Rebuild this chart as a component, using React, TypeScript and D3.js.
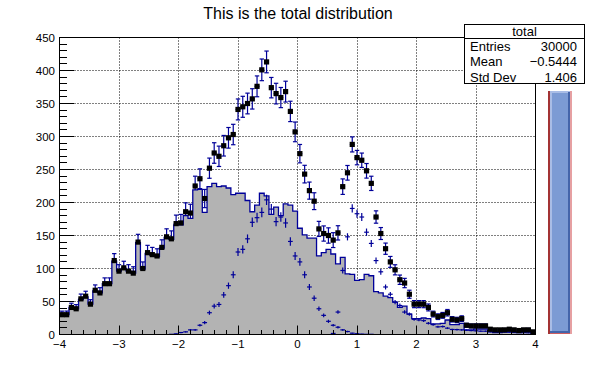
import React from 'react';
import * as d3 from 'd3';

const W = 596;
const H = 372;

// histogram binning: 100 bins from -4 to 4
const xLow = -4;
const xHigh = 4;
const nBins = 100;

const titleText = 'This is the total distribution';

// total = main + s1 + s2 (read from the black squares)
const totalCounts = [
  30, 30, 41, 39, 54, 58, 46, 67, 63, 77,
  77, 112, 96, 101, 96, 93, 140, 100, 124, 121,
  119, 132, 148, 145, 168, 169, 186, 184, 225, 236,
  206, 252, 275, 270, 286, 298, 303, 341, 345, 350,
  357, 376, 401, 413, 374, 365, 359, 368, 338, 307,
  274, 243, 218, 202, 160, 153, 150, 143, 154, 224,
  245, 288, 268, 264, 248, 229, 178, 153, 130, 110,
  98, 83, 78, 61, 46, 46, 46, 41, 31, 27,
  29, 33, 23, 22, 24, 14, 13, 13, 13, 13,
  8, 7, 7, 7, 8, 7, 6, 7, 7, 4,
];

// main contributor (grey filled)
const mainCounts = [
  29, 30, 41, 39, 53, 57, 46, 66, 63, 77,
  77, 111, 96, 100, 96, 93, 139, 99, 123, 120,
  118, 131, 147, 144, 166, 166, 180, 176, 219, 220,
  185, 224, 229, 224, 225, 222, 212, 214, 214, 203,
  186, 196, 214, 210, 182, 193, 180, 198, 196, 187,
  161, 151, 146, 146, 119, 124, 129, 122, 107, 117,
  92, 91, 82, 83, 91, 89, 65, 63, 58, 56,
  49, 41, 43, 31, 24, 24, 25, 24, 16, 16,
  17, 22, 15, 15, 17, 7, 7, 8, 8, 8,
  4, 3, 3, 4, 5, 4, 3, 4, 5, 2,
];

// first signal, weight 0.3
const signal1 = [
  0, 0, 0, 0, 0, 0, 0, 0, 0, 0,
  0, 0, 0, 0, 0, 0, 0, 0, 0, 0,
  0, 0, 0, 0.3, 1, 3, 4, 7, 7, 14,
  18, 33, 43, 45.5, 60, 74, 90.5, 125, 129, 145,
  170, 177, 185, 204, 190, 171, 178, 169, 141, 119,
  110, 90.5, 72, 55, 39, 29, 20, 14, 11, 7,
  4.5, 2, 1.2, 0.6, 0.3, 0.3, 0, 0, 0, 0,
  0, 0, 0, 0, 0, 0, 0, 0, 0, 0,
  0, 0, 0, 0, 0, 0, 0, 0, 0, 0,
  0, 0, 0, 0, 0, 0, 0, 0, 0, 0,
];

// second signal, weight 0.2
const signal2 = [
  0, 0, 0, 0, 0, 0, 0, 0, 0, 0,
  0, 0, 0, 0, 0, 0, 0, 0, 0, 0,
  0, 0, 0, 0, 0, 0, 0, 0, 0, 0,
  0, 0, 0, 0, 0, 0, 0, 0, 0, 0,
  0, 0, 0, 0, 0, 0, 0, 0, 0, 0,
  0, 0, 0, 0, 0, 0, 0, 1.6, 34, 97,
  148, 191, 183, 178, 155, 138, 112, 95, 72, 61,
  49, 44, 34, 31, 23, 22, 21, 17, 15, 11.6,
  12, 9.6, 7.6, 7.4, 7, 6.4, 6, 5.6, 5, 5,
  4.4, 4, 4, 3.6, 3.4, 3, 3, 2.8, 2.6, 2.4,
];
const w1 = 0.3;
const w2 = 0.2;

const xTickValues = [-4, -3, -2, -1, 0, 1, 2, 3, 4];
const xTickLabels = ['\u22124', '\u22123', '\u22122', '\u22121', '0', '1', '2', '3', '4'];
const yTickValues = [0, 50, 100, 150, 200, 250, 300, 350, 400, 450];

const statsTitle = 'total';
const statsLabels = ['Entries', 'Mean', 'Std Dev'];
const statsValues = ['30000', '\u22120.5444', '1.406'];

const BLUE = '#000099';
const FONT = '"Liberation Sans", Arial, Helvetica, sans-serif';

export default function App() {
  const x = d3.scaleLinear().domain([xLow, xHigh]).range([59.5, 535.5]);
  const y = d3.scaleLinear().domain([0, 450]).range([334.5, 37.5]);
  const bw = (xHigh - xLow) / nBins;
  const lo = (i: number) => xLow + i * bw;
  const mid = (i: number) => xLow + (i + 0.5) * bw;
  const crisp = (v: number) => Math.round(v - 0.5) + 0.5;

  const stepPts: [number, number][] = mainCounts.map((v, i) => [lo(i), v] as [number, number]);
  stepPts.push([xHigh, mainCounts[nBins - 1]]);

  const area = d3.area<[number, number]>()
    .x(d => x(d[0]))
    .y0(y(0))
    .y1(d => y(d[1]))
    .curve(d3.curveStepAfter);
  const line = d3.line<[number, number]>()
    .x(d => x(d[0]))
    .y(d => y(d[1]))
    .curve(d3.curveStepAfter);

  const yMinor = d3.range(0, 451, 10).filter(v => v % 50 !== 0);
  const xMinor = d3.range(0, 41).map(k => xLow + k * 0.2).filter((_, k) => k % 5 !== 0);

  const totalErr = totalCounts.map((_, i) => Math.sqrt(mainCounts[i] + w1 * signal1[i] + w2 * signal2[i]));

  // crosses for the weighted signals
  const crosses = (vals: number[], w: number, key: string) =>
    vals.map((v, i) => {
      if (v <= 0) return null;
      const e = Math.sqrt(w * v);
      return (
        <g key={key + i}>
          <line x1={x(lo(i))} x2={x(lo(i + 1))} y1={y(v)} y2={y(v)} />
          <line x1={x(mid(i))} x2={x(mid(i))} y1={y(v - e)} y2={y(v + e)} />
        </g>
      );
    });

  return (
    <svg width={W} height={H} style={{ position: 'absolute', left: 0, top: 0, background: '#fff' }} fontFamily={FONT}>
      <rect width={W} height={H} fill="#fff" />

      {/* title */}
      <text x={298} y={19} fontSize={16} textAnchor="middle" fill="#000">{titleText}</text>

      {/* grid */}
      <g stroke="#000" strokeWidth={1} strokeDasharray="1 2">
        {xTickValues.slice(1, -1).map(v => (
          <line key={'gx' + v} x1={crisp(x(v))} x2={crisp(x(v))} y1={37.5} y2={334.5} />
        ))}
        {yTickValues.slice(1, -1).map(v => (
          <line key={'gy' + v} x1={59.5} x2={535.5} y1={crisp(y(v))} y2={crisp(y(v))} />
        ))}
      </g>

      {/* total error bars */}
      <g stroke={BLUE} strokeWidth={1.2}>
        {totalCounts.map((v, i) => {
          if (v <= 0) return null;
          const e = totalErr[i];
          const cx = x(mid(i));
          return (
            <g key={'te' + i}>
              <line x1={x(lo(i))} x2={x(lo(i + 1))} y1={y(v)} y2={y(v)} />
              <line x1={cx} x2={cx} y1={y(v - e)} y2={y(v + e)} />
              <line x1={cx - 2.2} x2={cx + 2.2} y1={y(v - e)} y2={y(v - e)} />
              <line x1={cx - 2.2} x2={cx + 2.2} y1={y(v + e)} y2={y(v + e)} />
            </g>
          );
        })}
      </g>

      {/* main contributor */}
      <path d={area(stepPts) || ''} fill="#b3b3b3" />
      <path d={line(stepPts) || ''} fill="none" stroke={BLUE} strokeWidth={1.3} />

      {/* signals */}
      <g stroke={BLUE} strokeWidth={1.2}>
        {crosses(signal1, w1, 's1')}
        {crosses(signal2, w2, 's2')}
      </g>

      {/* total markers */}
      <g fill="#000">
        {totalCounts.map((v, i) => (v > 0 ?
          <rect key={'tm' + i} x={x(mid(i)) - 2.6} y={y(v) - 2.6} width={5.2} height={5.2} /> : null))}
      </g>

      {/* frame */}
      <rect x={59.5} y={37.5} width={476} height={297} fill="none" stroke="#000" strokeWidth={1} />

      {/* y axis ticks */}
      <g stroke="#000" strokeWidth={1}>
        {yTickValues.map(v => (
          <line key={'yt' + v} x1={59.5} x2={74} y1={crisp(y(v))} y2={crisp(y(v))} />
        ))}
        {yMinor.map(v => (
          <line key={'ym' + v} x1={59.5} x2={67} y1={crisp(y(v))} y2={crisp(y(v))} />
        ))}
        {xTickValues.map(v => (
          <line key={'xt' + v} x1={crisp(x(v))} x2={crisp(x(v))} y1={334.5} y2={325.5} />
        ))}
        {xMinor.map(v => (
          <line key={'xm' + v.toFixed(1)} x1={crisp(x(v))} x2={crisp(x(v))} y1={334.5} y2={330} />
        ))}
      </g>

      {/* tick labels */}
      <g fontSize={11.5} fill="#000">
        {yTickValues.map(v => (
          <text key={'yl' + v} x={55} y={y(v)} dy="0.36em" textAnchor="end">{v}</text>
        ))}
        {xTickValues.map((v, k) => (
          <text key={'xl' + v} x={x(v)} y={347.5} textAnchor="middle">{xTickLabels[k]}</text>
        ))}
      </g>

      {/* stats box */}
      <g fontSize={13} fill="#000">
        <rect x={464.5} y={24.5} width={120} height={59} fill="#fff" stroke="#000" strokeWidth={1} />
        <line x1={464.5} x2={584.5} y1={38.5} y2={38.5} stroke="#000" strokeWidth={1} />
        <text x={524.5} y={36} textAnchor="middle">{statsTitle}</text>
        {statsLabels.map((s, k) => (
          <g key={'st' + k}>
            <text x={470} y={51 + k * 15.3}>{s}</text>
            <text x={577} y={51 + k * 15.3} textAnchor="end">{statsValues[k]}</text>
          </g>
        ))}
      </g>

      {/* slider */}
      <g>
        <rect x={548} y={91} width={24} height={243} fill="#ce5e60" />
        <rect x={548} y={91} width={2} height={243} fill="#a33234" />
        <rect x={570} y={91} width={2} height={243} fill="#e6a0a2" />
        <rect x={550} y={91} width={20} height={242} fill="#7c9bd4" />
        <rect x={550} y={91} width={20} height={2} fill="#a9bde6" />
        <rect x={550} y={91} width={2} height={242} fill="#a9bde6" />
        <rect x={568} y={92} width={2} height={241} fill="#4465aa" />
        <rect x={550} y={331} width={20} height={2} fill="#4465aa" />
      </g>
    </svg>
  );
}
